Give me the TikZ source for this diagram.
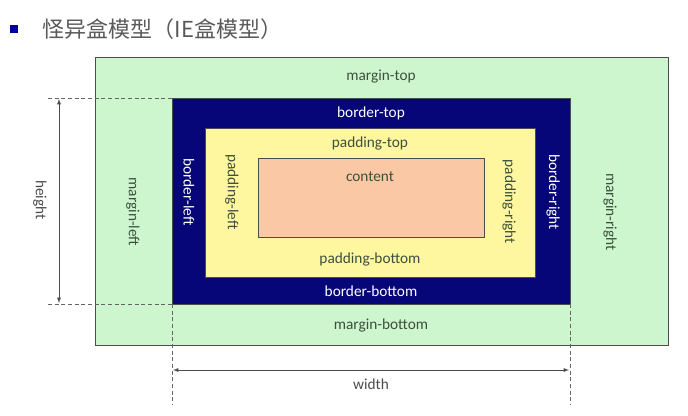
\documentclass[tikz,border=0pt]{standalone}
\usepackage{fontspec}
\setmainfont{Carlito}
\newfontfamily\cjk{Noto Sans CJK SC}
\usetikzlibrary{positioning,arrows}
\definecolor{margincol}{RGB}{206,246,206}
\definecolor{bordercol}{RGB}{6,6,120}
\definecolor{paddingcol}{RGB}{255,246,160}
\definecolor{contentcol}{RGB}{250,200,165}
\definecolor{textcol}{RGB}{60,80,60}
\begin{document}
\begin{tikzpicture}[x=0.75pt,y=-0.75pt,
  box/.style={draw=black!70},
  lbl/.style={font=\fontsize{11.5}{13}\selectfont, text=textcol},
  wlbl/.style={lbl, text=white},
  dim/.style={densely dashed, black!60},
  vert/.style={rotate=-90}]
\useasboundingbox (0,0) rectangle (688,415);

% title
\fill[blue!60!black] (10,25) rectangle (18,33);
\node[anchor=west, text=black!65, font=\cjk\fontsize{16.5}{19}\selectfont] (title) at (38,29) {怪异盒模型（IE盒模型）};

% boxes
\draw[box, fill=margincol] (95,57) rectangle (668,345);
\draw[box, fill=bordercol] (172,98) rectangle (570,304);
\draw[box, fill=paddingcol] (205,128) rectangle (535,277);
\draw[box, fill=contentcol] (258,158) rectangle (484,237);

% labels
\node[lbl] (mt) at (381,77) {margin-top};
\node[lbl] (mb) at (381,325) {margin-bottom};
\node[lbl, vert] (ml) at (133,212) {margin-left};
\node[lbl, vert] (mr) at (610,212) {margin-right};
\node[wlbl] (bt) at (371,113) {border-top};
\node[wlbl] (bb) at (371,291) {border-bottom};
\node[wlbl, vert] (bl) at (189,192) {border-left};
\node[wlbl, vert] (br) at (553,192) {border-right};
\node[lbl] (pt) at (370,143) {padding-top};
\node[lbl] (pb) at (370,259) {padding-bottom};
\node[lbl, vert] (pl) at (232,192) {padding-left};
\node[lbl, vert] (pr) at (509,202) {padding-right};
\node[lbl] (ct) at (370,177) {content};

% dimensions
\coordinate (htop) at (48,98);
\coordinate (hbot) at (48,304);
\draw[dim] (htop) -- (172,98);
\draw[dim] (hbot) -- (172,304);
\draw[black!70, latex-latex] (59,99) -- (59,303);
\node[lbl, text=black!70, vert] (h) at (40,200) {height};

\coordinate (wl) at (172,304);
\coordinate (wr) at (570,304);
\draw[dim] (wl) -- (172,405);
\draw[dim] (wr) -- (570,405);
\draw[black!70, latex-latex] (173,370) -- (569,370);
\node[lbl, text=black!70] (w) at (371,384) {width};
\end{tikzpicture}
\end{document}
